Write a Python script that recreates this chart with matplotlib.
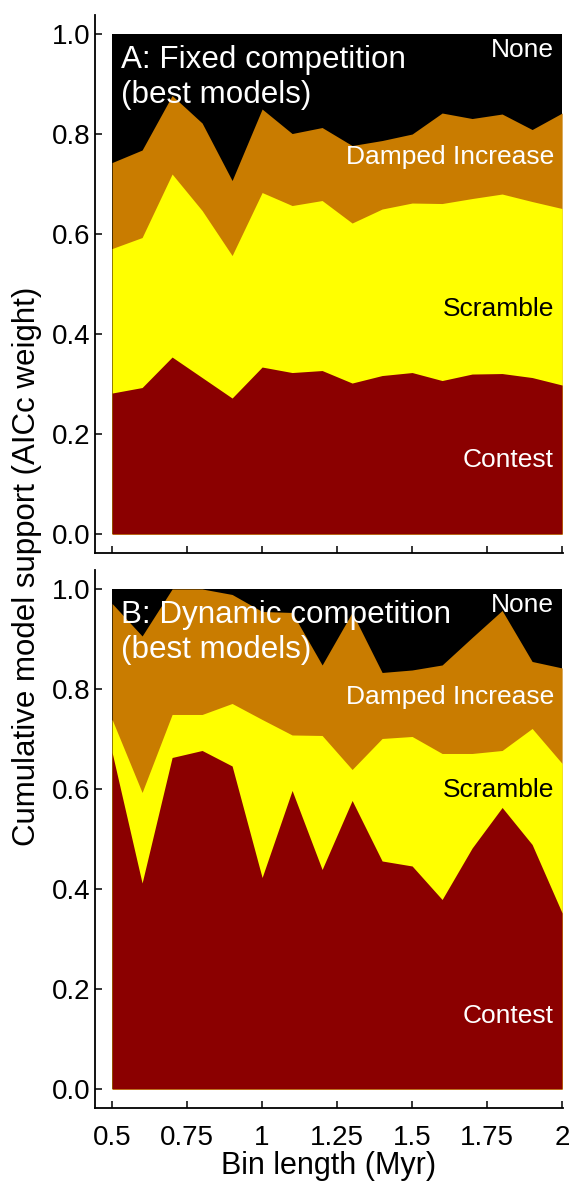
import numpy as np
import matplotlib
matplotlib.use('Agg')
import matplotlib.pyplot as plt

plt.rcParams['font.family'] = ['Liberation Sans', 'DejaVu Sans']

# bin lengths (Myr)
bin_length = [0.5, 0.6, 0.7, 0.8, 0.9, 1.0, 1.1, 1.2, 1.3, 1.4, 1.5, 1.6, 1.7, 1.8, 1.9, 2.0]

# cumulative AICc weight (upper edge of each model band)
# panel A: fixed competition
a_contest = [0.282, 0.293, 0.354, 0.313, 0.272, 0.334, 0.323, 0.327,
             0.302, 0.317, 0.323, 0.307, 0.320, 0.321, 0.313, 0.298]
a_scramble = [0.571, 0.593, 0.720, 0.647, 0.557, 0.683, 0.657, 0.667,
              0.622, 0.650, 0.662, 0.661, 0.671, 0.680, 0.665, 0.651]
a_damped = [0.743, 0.768, 0.877, 0.822, 0.707, 0.850, 0.801, 0.813,
            0.777, 0.787, 0.800, 0.842, 0.831, 0.840, 0.809, 0.842]

# panel B: dynamic competition
b_contest = [0.673, 0.412, 0.663, 0.677, 0.646, 0.423, 0.597, 0.439,
             0.577, 0.456, 0.446, 0.379, 0.482, 0.563, 0.489, 0.352]
b_scramble = [0.739, 0.593, 0.749, 0.749, 0.771, 0.739, 0.708, 0.707,
              0.639, 0.701, 0.705, 0.671, 0.671, 0.677, 0.721, 0.651]
b_damped = [0.971, 0.906, 1.000, 1.000, 0.989, 0.955, 0.953, 0.848,
            0.953, 0.833, 0.838, 0.848, 0.903, 0.957, 0.855, 0.842]

model_names = ['None', 'Damped Increase', 'Scramble', 'Contest']
model_colors = ['#000000', '#C97C00', '#FFFF00', '#8B0000']
label_colors = ['white', 'white', 'black', 'white']

x_ticks = [0.5, 0.75, 1, 1.25, 1.5, 1.75, 2]
x_ticklabels = ['0.5', '0.75', '1', '1.25', '1.5', '1.75', '2']
y_ticks = [0.0, 0.2, 0.4, 0.6, 0.8, 1.0]


def draw_panel(ax, contest, scramble, damped, title, label_y, show_xlabels):
    x = np.array(bin_length)
    tops = [np.ones_like(x), np.array(damped), np.array(scramble), np.array(contest)]
    # paint each band from zero upward, top band first, so no seams show
    for top, col in zip(tops, model_colors):
        ax.fill_between(x, 0, top, color=col, lw=0)

    ax.text(0.529, 0.913, title, color='white', fontsize=22.6,
            ha='left', va='center', linespacing=1.25)
    for name, col, y in zip(model_names, label_colors, label_y):
        ax.text(1.973, y, name, color=col, fontsize=19, ha='right', va='center')

    ax.set_xlim(0.443, 2.003)
    ax.set_ylim(-0.038, 1.038)
    ax.set_xticks(x_ticks)
    ax.set_yticks(y_ticks)
    ax.set_yticklabels(['%.1f' % v for v in y_ticks])
    if show_xlabels:
        ax.set_xticklabels(x_ticklabels)
    else:
        ax.set_xticklabels([])
    ax.spines['top'].set_visible(False)
    ax.spines['right'].set_visible(False)
    ax.spines['left'].set_linewidth(1.3)
    ax.spines['bottom'].set_linewidth(1.3)
    ax.tick_params(axis='both', direction='in', length=5, width=1.1,
                   labelsize=20)
    ax.tick_params(axis='x', pad=12)
    ax.tick_params(axis='y', pad=3)


fig = plt.figure(figsize=(5.73, 11.83), dpi=100)
ax_a = fig.add_axes([0.1658, 0.5325, 0.8168, 0.4548])
ax_b = fig.add_axes([0.1658, 0.0634, 0.8168, 0.4548])

draw_panel(ax_a, a_contest, a_scramble, a_damped,
           'A: Fixed competition\n(best models)',
           [0.968, 0.754, 0.45, 0.148], False)
draw_panel(ax_b, b_contest, b_scramble, b_damped,
           'B: Dynamic competition\n(best models)',
           [0.968, 0.784, 0.597, 0.146], True)

ax_b.set_xlabel('Bin length (Myr)', fontsize=22, labelpad=0)
fig.text(0.047, 0.521, 'Cumulative model support (AICc weight)', fontsize=22.5,
         rotation=90, ha='center', va='center')

fig.savefig('out.png', dpi=100)
